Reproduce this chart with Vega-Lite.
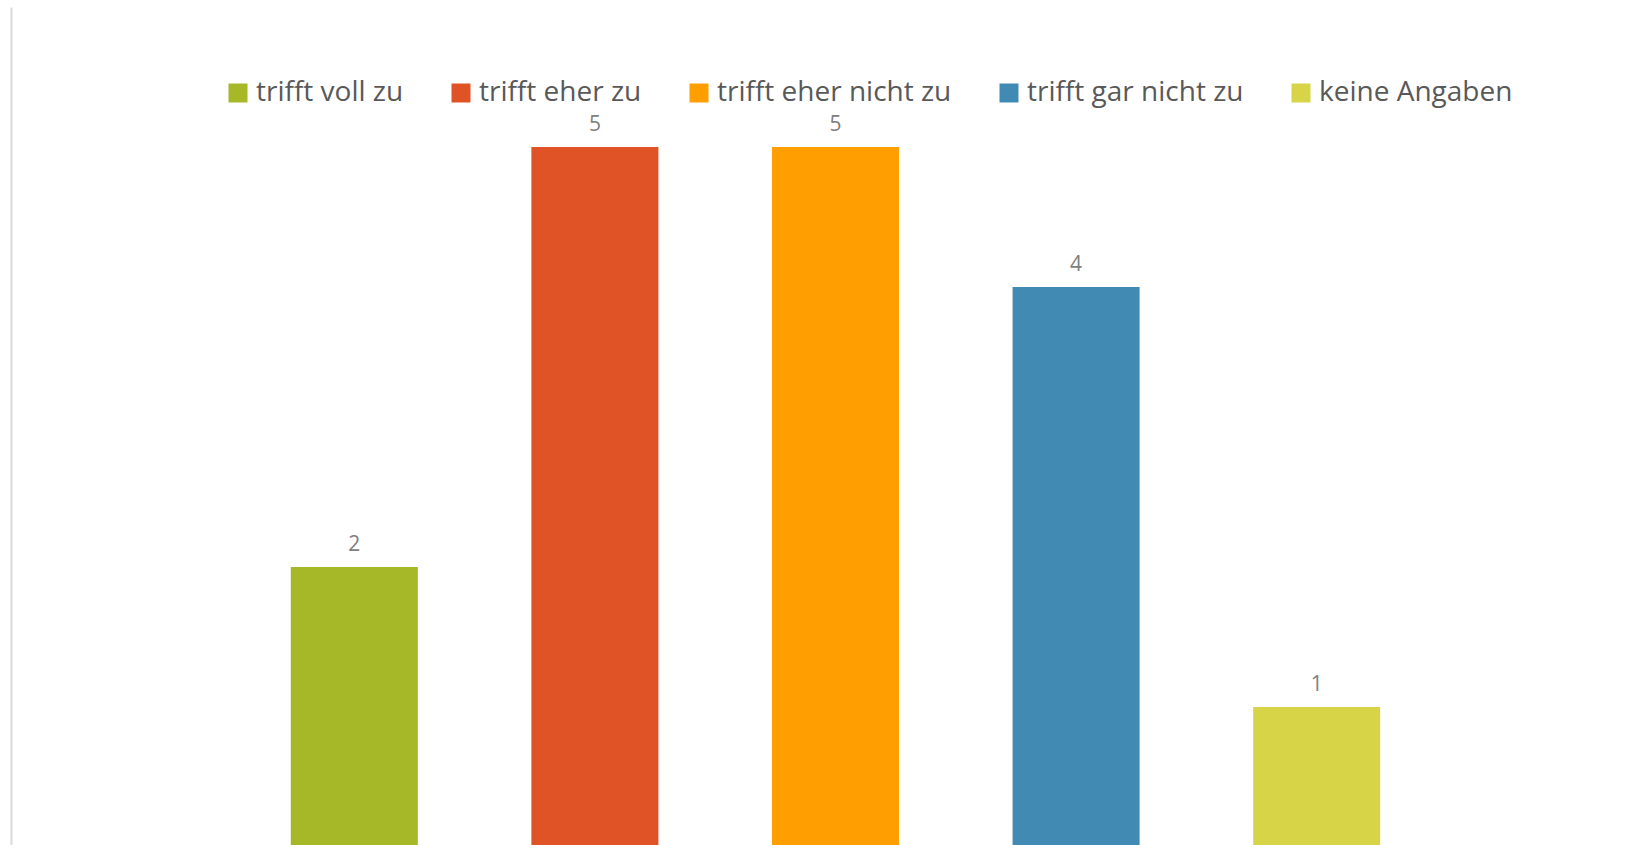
{
  "$schema": "https://vega.github.io/schema/vega-lite/v6.json",
  "autosize": "none",
  "width": 1203,
  "height": 840,
  "padding": {"left": 234, "top": 7, "right": 200, "bottom": 0},
  "background": "white",
  "data": {
    "values": [
      {"kategorie": "trifft voll zu", "anzahl": 2},
      {"kategorie": "trifft eher zu", "anzahl": 5},
      {"kategorie": "trifft eher nicht zu", "anzahl": 5},
      {"kategorie": "trifft gar nicht zu", "anzahl": 4},
      {"kategorie": "keine Angaben", "anzahl": 1}
    ]
  },
  "encoding": {
    "x": {
      "field": "kategorie",
      "type": "nominal",
      "sort": null,
      "axis": null,
      "scale": {"paddingInner": 0.472, "paddingOuter": 0.236}
    },
    "y": {
      "field": "anzahl",
      "type": "quantitative",
      "scale": {"domain": [0, 6], "nice": false},
      "axis": {
        "title": null,
        "labels": false,
        "ticks": false,
        "grid": false,
        "domain": true,
        "domainColor": "#d9d9d9",
        "domainWidth": 2,
        "offset": 223
      }
    }
  },
  "layer": [
    {
      "mark": {"type": "bar"},
      "encoding": {
        "color": {
          "field": "kategorie",
          "type": "nominal",
          "sort": null,
          "scale": {
            "domain": ["trifft voll zu", "trifft eher zu", "trifft eher nicht zu", "trifft gar nicht zu", "keine Angaben"],
            "range": ["#A6B727", "#DF5327", "#FE9E00", "#418AB3", "#D7D447"]
          },
          "legend": {
            "title": null,
            "orient": "none",
            "direction": "horizontal",
            "legendX": -10,
            "legendY": 72,
            "padding": 0,
            "symbolType": "square",
            "symbolSize": 361,
            "symbolStrokeWidth": 0,
            "labelFont": "Open Sans",
            "labelFontSize": 28,
            "labelColor": "#595959",
            "labelOffset": 4,
            "columnPadding": 43,
            "labelLimit": 400
          }
        }
      }
    },
    {
      "mark": {
        "type": "text",
        "dy": -16,
        "baseline": "alphabetic",
        "font": "Open Sans",
        "fontSize": 21,
        "color": "#808080"
      },
      "encoding": {
        "text": {"field": "anzahl", "type": "quantitative"}
      }
    }
  ],
  "config": {
    "view": {"stroke": null}
  }
}
